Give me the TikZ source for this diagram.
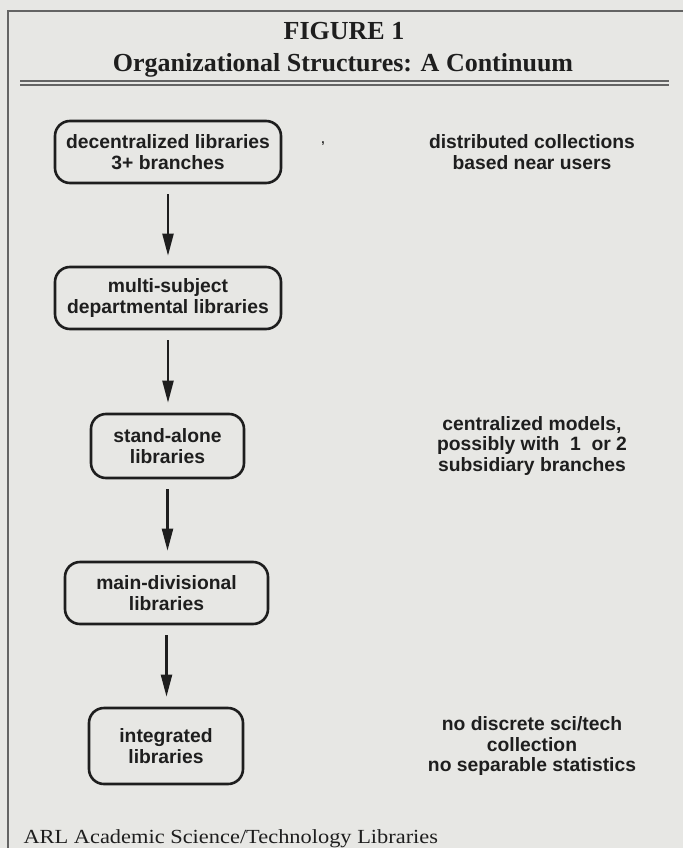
\documentclass[tikz,border=0pt]{standalone}
\usepackage{fontspec}
\setmainfont{Liberation Serif}
\setsansfont{Liberation Sans}
\newfontfamily\footfont[FakeStretch=1.12]{Liberation Serif}
\usetikzlibrary{arrows.meta}
\definecolor{paper}{RGB}{231,231,228}
\definecolor{ink}{RGB}{30,30,30}
\definecolor{rulegray}{RGB}{100,100,100}
\begin{document}
\begin{tikzpicture}[x=1pt,y=-1pt,
  stage/.style={draw=ink, line width=2.6pt, rounded corners=15pt,
    font=\sffamily\bfseries\fontsize{19.3}{20.5}\selectfont, align=center,
    text=ink, inner sep=0pt},
  flow/.style={draw=ink, line width=2.2pt, -{Triangle[length=22pt,width=11pt]},
    shorten <=10pt, shorten >=10pt},
  note/.style={font=\sffamily\bfseries\fontsize{19.3}{20.5}\selectfont,
    align=center, text=ink},
  titletext/.style={font=\bfseries\fontsize{26}{30}\selectfont, text=ink, anchor=base},
  frameline/.style={draw=rulegray, line width=1.5pt}]
\fill[paper] (0,0) rectangle (683,848);
\useasboundingbox (0,0) rectangle (683,848);
\draw[frameline] (8,848) -- (8,11) -- (683,11);
\node[titletext] (fig) at (344,40) {FIGURE 1};
\node[titletext] (sub) at (343,72) {Organizational Structures: A Continuum};
\draw[frameline, line width=1.2pt] (20,81) -- (669,81);
\draw[frameline, line width=1.2pt] (20,85) -- (669,85);

\node[stage, minimum width=226pt, minimum height=62pt] (b1) at (168,152) {decentralized libraries\\3+ branches};
\node[stage, minimum width=226pt, minimum height=62pt] (b2) at (168,298) {multi-subject\\departmental libraries};
\node[stage, minimum width=153pt, minimum height=64pt] (b3) at (167.5,446) {stand-alone\\libraries};
\node[stage, minimum width=203pt, minimum height=62pt] (b4) at (166.5,593) {main-divisional\\libraries};
\node[stage, minimum width=154pt, minimum height=76pt] (b5) at (166,746) {integrated\\libraries};

\draw[flow] (b1.south) -- (b1.south |- b2.north);
\draw[flow] (b2.south) -- (b2.south |- b3.north);
\draw[flow] (b3.south) -- (b3.south |- b4.north);
\draw[flow] (b4.south) -- (b4.south |- b5.north);

\node[note] (n1) at (532,152) {distributed collections\\based near users};
\node[note] (n3) at (532,446) {centralized models,\\possibly with~~1~~or 2\\subsidiary branches};
\node[note] (n5) at (532,746) {no discrete sci/tech\\collection\\no separable statistics};
\node[font=\sffamily\bfseries\fontsize{12}{12}\selectfont, text=ink] (speck) at (323,144) {,};

\node[anchor=base west, font=\footfont\fontsize{20}{22}\selectfont, text=ink] (src) at (20,843) {ARL Academic Science/Technology Libraries};
\end{tikzpicture}
\end{document}
